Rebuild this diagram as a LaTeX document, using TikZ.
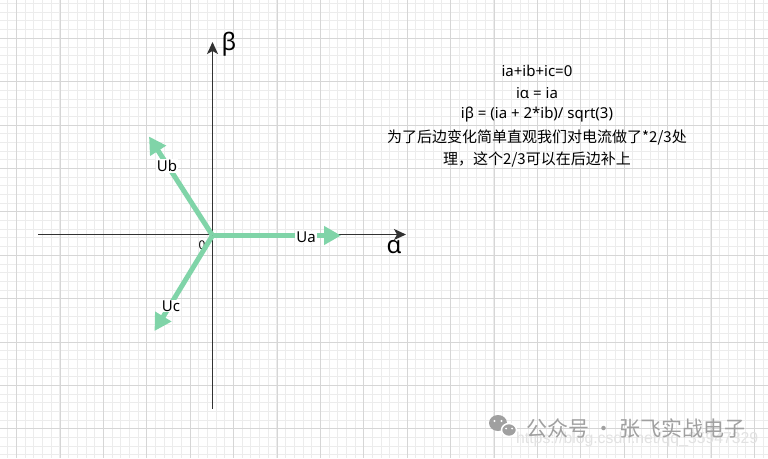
\documentclass[tikz,border=0pt]{standalone}
\usepackage{fontspec}
\usepackage{graphicx}
\setmainfont{Noto Sans}
\newfontfamily\cjk{Noto Sans CJK SC}
\newfontfamily\arialf{Liberation Sans}
\usetikzlibrary{arrows.meta}
\definecolor{vecgreen}{RGB}{128,212,168}
\definecolor{minorc}{RGB}{236,236,236}
\definecolor{majorc}{RGB}{214,214,214}
\definecolor{axisc}{RGB}{50,50,50}
\definecolor{wmgray}{RGB}{160,160,160}
\definecolor{urlc}{RGB}{226,226,226}
\tikzset{
  minorgrid/.style={draw=minorc, line width=1pt},
  majorgrid/.style={draw=majorc, line width=1pt},
  axisline/.style={draw=axisc, line width=1.4pt, -{Stealth[length=12pt,width=11pt,inset=3pt]}},
  vecline/.style={draw=vecgreen, line width=5pt, -{Triangle[length=17pt,width=18pt]}, fill=vecgreen},
  vlabel/.style={fill=white, inner sep=1pt, font=\fontsize{15}{17}\selectfont},
  greek/.style={inner sep=0pt, font=\fontsize{24}{26}\selectfont},
  formula/.style={inner sep=0pt, font=\fontsize{15}{17}\selectfont},
  cjkline/.style={inner sep=0pt, font=\cjk\fontsize{15}{17}\selectfont},
}
\begin{document}
\begin{tikzpicture}[x=1pt,y=-1pt]
\useasboundingbox (0,0) rectangle (768,458);
\fill[white] (0,0) rectangle (768,458);
% grid
\foreach \i in {0,...,88} \draw[minorgrid] ({7.9+8.68*\i},0) -- ({7.9+8.68*\i},458);
\foreach \j in {0,...,52} \draw[minorgrid] (0,{3.6+8.68*\j}) -- (768,{3.6+8.68*\j});
\foreach \i in {0,...,17} \draw[majorgrid] ({16.6+43.4*\i},0) -- ({16.6+43.4*\i},458);
\foreach \j in {0,...,10} \draw[majorgrid] (0,{38.3+43.4*\j}) -- (768,{38.3+43.4*\j});
% axes
\coordinate (xs) at (38,234.5);
\coordinate (xe) at (406,234.5);
\coordinate (ys) at (212.5,409);
\coordinate (ye) at (212.5,42);
\draw[axisline] (xs) -- (xe);
\draw[axisline] (ys) -- (ye);
\node[greek] (beta) at (229,44) {β};
\node[greek] (alpha) at (394,247) {α};
\node[inner sep=0pt, font=\fontsize{12}{14}\selectfont] (zero) at (202,245) {0};
% vectors
\coordinate (V) at (212.5,235.5);
\coordinate (ua) at (341,235.5);
\coordinate (ub) at (149,136.5);
\coordinate (uc) at (154.5,331);
\draw[vecline] (V) -- (ua);
\draw[vecline] (V) -- (ub);
\draw[vecline] (V) -- (uc);
\node[vlabel] (la) at (306,237) {Ua};
\node[vlabel] (lb) at (167,166) {Ub};
\node[vlabel] (lc) at (171,306) {Uc};
% text block
\node[formula] (t1) at (537,71) {ia+ib+ic=0};
\node[formula] (t2) at (537,93) {iα = ia};
\node[formula] (t3) at (537,115) {iβ = (ia + 2*ib)/ sqrt(3)};
\node[cjkline] (t4) at (537,137) {为了后边变化简单直观我们对电流做了*2/3处};
\node[cjkline] (t5) at (537,159) {理，这个2/3可以在后边补上};
% watermark
\node[anchor=west, inner sep=0pt, text=urlc] (url) at (516,439) {\resizebox{242pt}{!}{\arialf\fontsize{17}{19}\selectfont https://blog.csdn.net/qq\_35947329}};
\fill[wmgray] (498,423) ellipse (9 and 8);
\fill[white] (494.5,421) circle (1.2);
\fill[white] (501.5,421) circle (1.2);
\filldraw[fill=wmgray, draw=white, line width=1.5pt] (509,430) ellipse (7.5 and 6.5);
\fill[white] (506,428.5) circle (1);
\fill[white] (512,428.5) circle (1);
\node[anchor=west, inner sep=0pt, text=wmgray, font=\cjk\fontsize{21}{23}\selectfont] (wm) at (526,428) {公众号 · 张飞实战电子};
\end{tikzpicture}
\end{document}
